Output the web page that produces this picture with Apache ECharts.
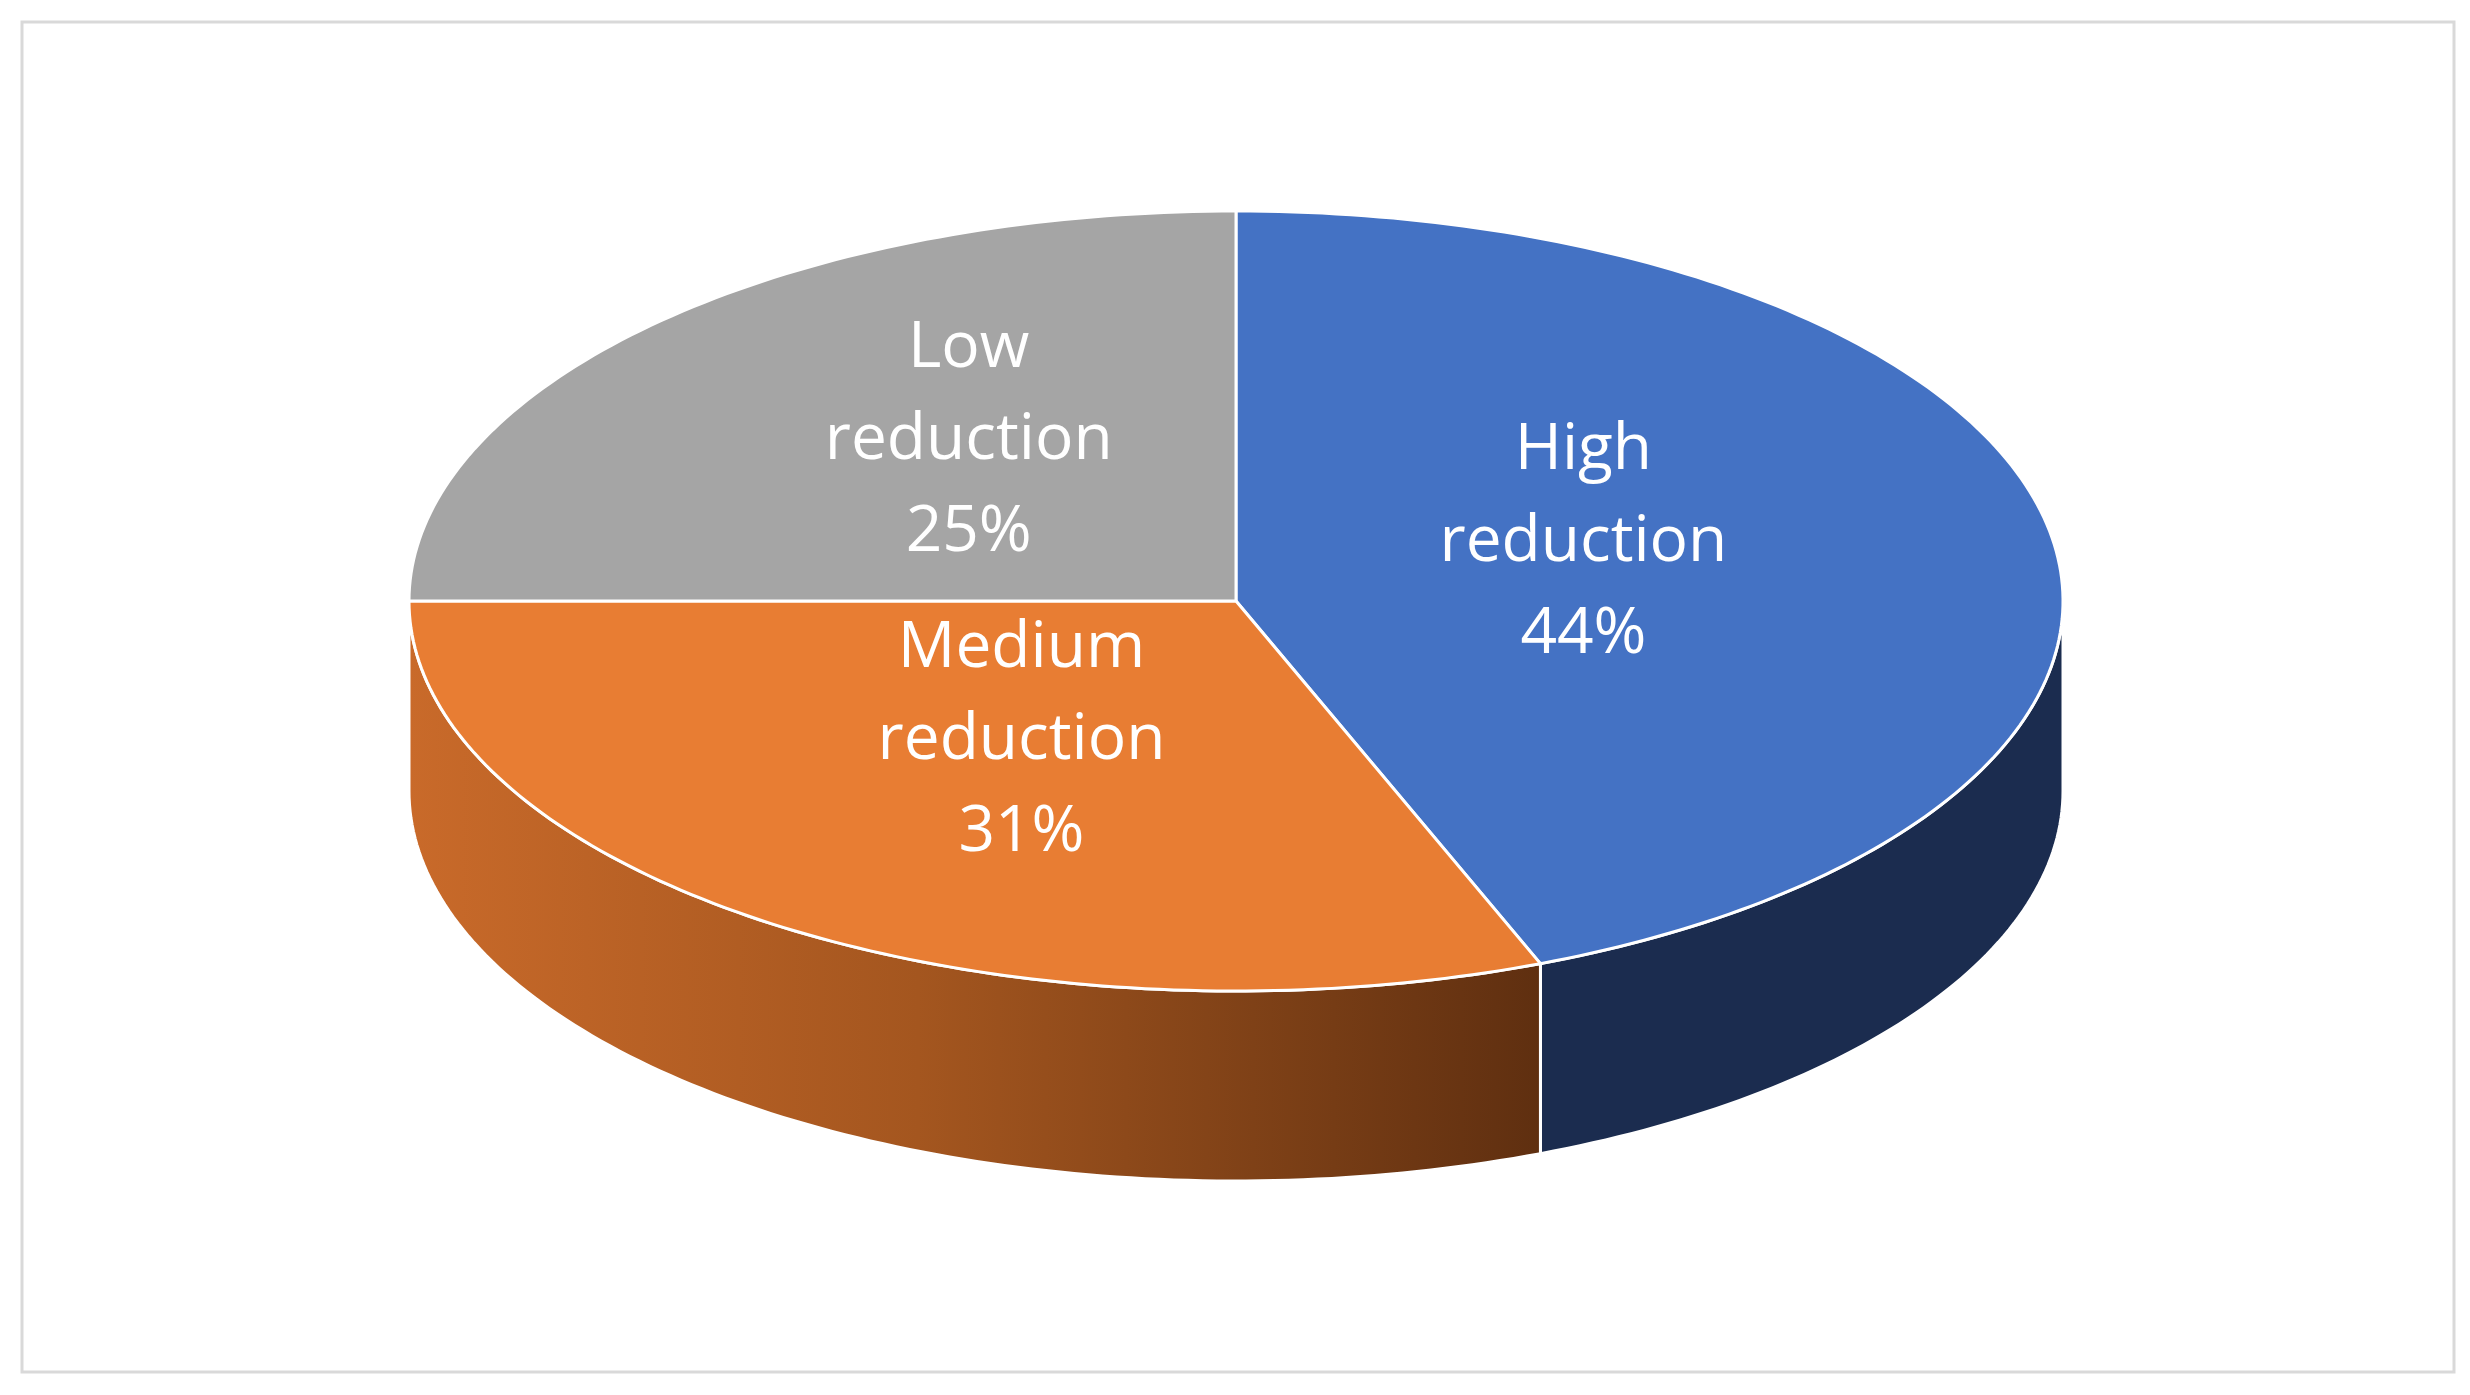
<!DOCTYPE html>
<html>
<head>
<meta charset="utf-8">
<script src="https://cdn.jsdelivr.net/npm/echarts@6/dist/echarts.min.js"></script>
<style>html,body{margin:0;padding:0;background:#fff}#chart{width:2470px;height:1395px}</style>
</head>
<body>
<div id="chart"></div>
<script>
var categories = ['High\nreduction', 'Medium\nreduction', 'Low\nreduction'];
var values = [44, 31, 25];
var topColors = ['#4472c4', '#e87d33', '#a5a5a5'];
var sideColors = ['#1b2c4f', null, '#6b6b6b'];

// ellipse geometry
var cx = 1236, cy = 601, rx = 827, ry = 390, depth = 190;
var total = values.reduce(function (a, b) { return a + b; }, 0);

function pt(deg, dy) {
	var r = deg * Math.PI / 180;
	return [cx + rx * Math.sin(r), cy - ry * Math.cos(r) + (dy || 0)];
}
function arc(a, b, dy) {
	var pts = [], n = Math.max(2, Math.ceil(Math.abs(b - a)));
	for (var i = 0; i <= n; i++) pts.push(pt(a + (b - a) * i / n, dy));
	return pts;
}

function renderItem(params, api) {
	var idx = params.dataIndex;
	var start = 0;
	for (var i = 0; i < idx; i++) start += values[i] / total * 360;
	var end = start + api.value(0) / total * 360;
	var children = [];
	// visible side wall: front half between 90 and 270 deg
	var s = Math.max(start, 90), e = Math.min(end, 270);
	if (e > s) {
		var top = arc(s, e, 0), bot = arc(e, s, depth);
		var fill = sideColors[idx];
		if (idx === 1) {
			fill = new echarts.graphic.LinearGradient(0, 0, 1, 0, [
				{offset: 0, color: '#c96a2a'},
				{offset: 0.45, color: '#a4561f'},
				{offset: 1, color: '#5f2f10'}
			]);
		}
		children.push({type: 'polygon', shape: {points: top.concat(bot)},
			style: {fill: fill, stroke: '#ffffff', lineWidth: 3}});
	}
	// top face
	var face = [[cx, cy]].concat(arc(start, end, 0));
	children.push({type: 'polygon', shape: {points: face},
		style: {fill: topColors[idx], stroke: '#ffffff', lineWidth: 3}});
	var mid = (start + end) / 2;
	var mr = mid * Math.PI / 180;
	children.push({type: 'text', z2: 10,
		x: cx + rx * Math.sin(mr) * 0.44 - 10, y: cy - ry * Math.cos(mr) * 0.5 - 22,
		style: {text: categories[idx] + '\n' + api.value(0) + '%', fill: '#ffffff',
			font: '64px "Open Sans"', align: 'center', verticalAlign: 'middle', lineHeight: 92}});
	return {type: 'group', children: children};
}

var option = {
	backgroundColor: '#fff',
	animation: false,
	graphic: [{type: 'rect', shape: {x: 22, y: 22, width: 2432, height: 1350},
		style: {fill: 'none', stroke: '#d9d9d9', lineWidth: 3}}],
	series: [{
		type: 'custom',
		coordinateSystem: 'none',
		renderItem: renderItem,
		data: values.map(function (v) { return [v]; })
	}]
};

var chart = echarts.init(document.getElementById('chart'));
chart.setOption(option);
</script>
</body>
</html>
